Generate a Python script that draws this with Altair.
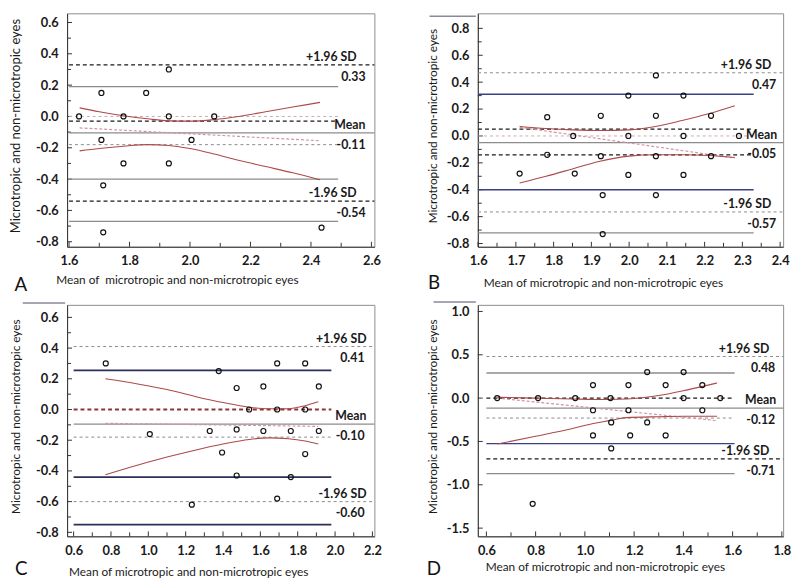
import altair as alt
import pandas as pd

FONT = "Lato"

# ---------------- Panel A ----------------
a_mean = [1.633, 1.707, 1.78, 1.855, 1.93, 1.93, 2.08, 1.707, 2.005, 1.78, 1.93, 1.713, 1.713, 2.435]
a_diff = [0.0, 0.15, 0.0, 0.15, 0.30, 0.0, 0.0, -0.15, -0.15, -0.30, -0.30, -0.44, -0.74, -0.71]
a_curve_x = [1.635, 1.70, 1.78, 1.86, 1.93, 2.00, 2.08, 2.16, 2.25, 2.34, 2.43]
a_ci_up = [0.055, 0.03, 0.005, -0.015, -0.028, -0.03, -0.02, 0.0, 0.03, 0.06, 0.09]
a_ci_lo = [-0.22, -0.205, -0.19, -0.18, -0.185, -0.205, -0.24, -0.28, -0.32, -0.36, -0.405]
a_reg_x = [1.635, 2.43]
a_reg_y = [-0.073, -0.155]
a_lines = [0.33, 0.19, 0.0, -0.03, -0.105, -0.18, -0.40, -0.54, -0.67]
a_labels = ["+1.96 SD", "0.33", "Mean", "-0.11", "-1.96 SD", "-0.54"]
a_label_at = [0.33, 0.33, -0.105, -0.105, -0.54, -0.54]
a_xmajor = [1.6, 1.8, 2.0, 2.2, 2.4, 2.6]
a_xminor = [1.7, 1.9, 2.1, 2.3, 2.5]
a_ymajor = [0.6, 0.4, 0.2, 0.0, -0.2, -0.4, -0.6, -0.8]
a_yminor = [0.5, 0.3, 0.1, -0.1, -0.3, -0.5, -0.7]

# ---------------- Panel B ----------------
b_mean = [1.710, 1.783, 1.783, 1.852, 1.856, 1.925, 1.925, 1.930, 1.930, 1.998, 1.998,
          1.998, 2.071, 2.071, 2.071, 2.071, 2.144, 2.144, 2.144, 2.217, 2.217, 2.291]
b_diff = [-0.28, 0.14, -0.14, 0.0, -0.28, 0.15, -0.15, -0.44, -0.73, 0.30, 0.0,
          -0.29, 0.45, 0.15, -0.15, -0.44, 0.30, 0.0, -0.29, 0.15, -0.15, 0.0]
b_curve_x = [1.71, 1.78, 1.85, 1.92, 2.00, 2.07, 2.14, 2.21, 2.28]
b_ci_up = [0.07, 0.055, 0.045, 0.04, 0.045, 0.07, 0.115, 0.165, 0.225]
b_ci_lo = [-0.35, -0.30, -0.245, -0.19, -0.15, -0.14, -0.14, -0.145, -0.16]
b_reg_x = [1.71, 2.28]
b_reg_y = [0.065, -0.165]
b_lines = [0.47, 0.31, 0.05, 0.0, -0.05, -0.14, -0.40, -0.565, -0.72]
b_labels = ["+1.96 SD", "0.47", "Mean", "-0.05", "-1.96 SD", "-0.57"]
b_label_at = [0.47, 0.47, -0.05, -0.05, -0.565, -0.565]
b_xmajor = [1.6, 1.7, 1.8, 1.9, 2.0, 2.1, 2.2, 2.3, 2.4]
b_xminor = [1.65, 1.75, 1.85, 1.95, 2.05, 2.15, 2.25, 2.35]
b_ymajor = [0.8, 0.6, 0.4, 0.2, 0.0, -0.2, -0.4, -0.6, -0.8]
b_yminor = [0.7, 0.5, 0.3, 0.1, -0.1, -0.3, -0.5, -0.7]

# ---------------- Panel C ----------------
c_mean = [0.772, 1.377, 1.473, 1.69, 1.616, 1.84, 1.913, 1.54, 1.69, 1.84, 1.008,
          1.329, 1.473, 1.616, 1.763, 1.913, 1.395, 1.84, 1.473, 1.763, 1.69, 1.233]
c_diff = [0.30, 0.25, 0.14, 0.30, 0.15, 0.30, 0.15, 0.0, 0.0, 0.0, -0.16,
          -0.14, -0.13, -0.14, -0.14, -0.14, -0.28, -0.29, -0.43, -0.44, -0.58, -0.62]
c_curve_x = [0.77, 0.95, 1.10, 1.25, 1.40, 1.54, 1.65, 1.75, 1.84, 1.91]
c_ci_up = [0.20, 0.165, 0.13, 0.085, 0.045, 0.015, 0.005, 0.005, 0.025, 0.05]
c_ci_lo = [-0.425, -0.36, -0.31, -0.265, -0.225, -0.195, -0.185, -0.19, -0.205, -0.225]
c_reg_x = [0.77, 1.91]
c_reg_y = [-0.09, -0.11]
c_lines = [0.41, 0.255, 0.0, -0.095, -0.18, -0.44, -0.60, -0.75]
c_labels = ["+1.96 SD", "0.41", "Mean", "-0.10", "-1.96 SD", "-0.60"]
c_label_at = [0.41, 0.41, -0.095, -0.095, -0.60, -0.60]
c_xmajor = [0.6, 0.8, 1.0, 1.2, 1.4, 1.6, 1.8, 2.0, 2.2]
c_xminor = [0.7, 0.9, 1.1, 1.3, 1.5, 1.7, 1.9, 2.1]
c_ymajor = [0.6, 0.4, 0.2, 0.0, -0.2, -0.4, -0.6, -0.8]
c_yminor = [0.5, 0.3, 0.1, -0.1, -0.3, -0.5, -0.7]

# ---------------- Panel D ----------------
d_mean = [0.644, 0.81, 0.961, 1.033, 1.033, 1.033, 1.104, 1.107, 1.107, 1.177, 1.177,
          1.184, 1.253, 1.253, 1.328, 1.328, 1.401, 1.401, 1.477, 1.477, 1.55, 0.788]
d_diff = [0.0, 0.0, 0.0, 0.15, -0.14, -0.43, 0.0, -0.28, -0.58, 0.15, -0.14,
          -0.43, 0.30, -0.28, 0.15, -0.43, 0.30, 0.0, 0.15, -0.14, 0.0, -1.22]
d_curve_x = [0.644, 0.80, 0.95, 1.04, 1.10, 1.17, 1.30, 1.40, 1.47, 1.537]
d_ci_up = [0.01, 0.0, -0.01, -0.015, -0.015, -0.01, 0.03, 0.085, 0.13, 0.175]
d_ci_lo = [-0.53, -0.44, -0.35, -0.29, -0.26, -0.225, -0.215, -0.21, -0.21, -0.21]
d_reg_x = [0.644, 1.537]
d_reg_y = [0.0, -0.26]
d_lines = [0.48, 0.29, 0.0, -0.115, -0.23, -0.525, -0.70, -0.87]
d_labels = ["+1.96 SD", "0.48", "Mean", "-0.12", "-1.96 SD", "-0.71"]
d_label_at = [0.48, 0.48, -0.115, -0.115, -0.70, -0.70]
d_xmajor = [0.6, 0.8, 1.0, 1.2, 1.4, 1.6, 1.8]
d_xminor = [0.7, 0.9, 1.1, 1.3, 1.5, 1.7]
d_ymajor = [1.0, 0.5, 0.0, -0.5, -1.0, -1.5]
d_yminor = []

# ---------------- styles ----------------
STYLES = {
    "dash_dark": dict(color="#1a1a1a", strokeDash=[4, 3], strokeWidth=1.3),
    "dash_gray": dict(color="#8a8a8a", strokeDash=[3, 3], strokeWidth=1.0),
    "dash_light": dict(color="#c9aab2", strokeDash=[3, 3], strokeWidth=1.0),
    "dash_red": dict(color="#8e3434", strokeDash=[4, 3], strokeWidth=1.8),
    "solid_gray": dict(color="#8c8c8c", strokeWidth=1.3),
    "solid_blue": dict(color="#3b3f86", strokeWidth=1.5),
    "solid_navy": dict(color="#2c2f5c", strokeWidth=1.7),
}
RED = "#ac4a4a"
REG = "#d493a4"
LBL = "replace(format(datum.value, '.1f'), '\u2212', '-')"
XTITLE = "Mean of microtropic and non-microtropic eyes"
YTITLE = "Microtropic and non-microtropic eyes"


def panel(p):
    W, H = p["W"], p["H"]
    xs = alt.Scale(domain=p["xdom"], nice=False, zero=False)
    ys = alt.Scale(domain=p["ydom"], nice=False, zero=False)
    common = dict(ticks=False, grid=False, domain=True, domainColor="#333", domainWidth=1,
                  labelFont=FONT, labelFontSize=13, labelFontWeight="bold", labelColor="#1a1a1a",
                  labelOverlap=False, labelFlush=False, labelExpr=LBL, title=None)
    xaxis = alt.Axis(values=p["xmajor"], labelPadding=8, **common)
    yaxis = alt.Axis(values=p["ymajor"], labelPadding=9, **common)

    def X(f):
        return alt.X(f + ":Q", scale=xs, axis=xaxis)

    def Y(f):
        return alt.Y(f + ":Q", scale=ys, axis=yaxis)

    layers = []
    # inward tick marks (major and minor)
    for vals, ln in ((p["xmajor"], 5), (p["xminor"], 4)):
        if vals:
            layers.append(alt.Chart(pd.DataFrame({"t": vals})).mark_rule(color="#333", strokeWidth=1)
                          .encode(x=X("t"), y=alt.value(H), y2=alt.value(H - ln)))
    for vals, ln in ((p["ymajor"], 5), (p["yminor"], 4)):
        if vals:
            layers.append(alt.Chart(pd.DataFrame({"t": vals})).mark_rule(color="#333", strokeWidth=1)
                          .encode(y=Y("t"), x=alt.value(0), x2=alt.value(ln)))
    # horizontal reference lines
    for v, st, full in zip(p["lines"], p["styles"], p["full"]):
        df = pd.DataFrame({"x0": [p["x_start"]], "x1": [p["xdom"][1] if full else p["ci_end"]], "v": [v]})
        layers.append(alt.Chart(df).mark_rule(**STYLES[st]).encode(x=X("x0"), x2="x1", y=Y("v")))
    # regression line
    rdf = pd.DataFrame({"rx": p["reg_x"], "ry": p["reg_y"]})
    layers.append(alt.Chart(rdf).mark_line(color=REG, strokeDash=[3, 2], strokeWidth=1.2)
                  .encode(x=X("rx"), y=Y("ry")))
    # confidence curves
    cdf = pd.DataFrame({"cx": p["cx"], "up": p["up"], "lo": p["lo"]})
    for f in ("up", "lo"):
        layers.append(alt.Chart(cdf).mark_line(color=RED, strokeWidth=1.1, interpolate="monotone")
                      .encode(x=X("cx"), y=Y(f)))
    # points
    pdf = pd.DataFrame({"m": p["mean"], "d": p["diff"]})
    layers.append(alt.Chart(pdf).mark_point(shape="circle", filled=False, color="#111", size=26,
                                            strokeWidth=1.2, opacity=1)
                  .encode(x=X("m"), y=Y("d")))
    # line labels
    kinds = ["sd", "val", "mean", "val", "sd", "val"]
    for i, (t, at) in enumerate(zip(p["labels"], p["label_at"])):
        above = i % 2 == 0
        ldf = pd.DataFrame({"lx": [p["xdom"][1]], "ly": [at], "t": [t]})
        layers.append(alt.Chart(ldf).mark_text(align="right", baseline="middle", font=FONT,
                                               fontSize=12.5, fontWeight="bold", color="#1a1a1a",
                                               dx=p["dx"][kinds[i]], dy=-8 if above else 12)
                      .encode(x=X("lx"), y=Y("ly"), text="t:N"))
    # axis titles (as annotations)
    layers.append(alt.Chart(pd.DataFrame({"t": [p["xtitle"]]})).mark_text(
        font=FONT, fontSize=12, color="#1a1a1a", align="left", baseline="middle")
        .encode(x=alt.value(p["xtx"]), y=alt.value(H + p["xty"]), text="t:N"))
    layers.append(alt.Chart(pd.DataFrame({"t": [YTITLE]})).mark_text(
        font=FONT, fontSize=p["ytfs"], color="#1a1a1a", align="center", baseline="middle", angle=270)
        .encode(x=alt.value(p["ytx"]), y=alt.value(H / 2 - 4), text="t:N"))
    # panel letter
    layers.append(alt.Chart(pd.DataFrame({"t": [p["letter"]]})).mark_text(
        font=FONT, fontSize=19, color="#111", align="center", baseline="middle")
        .encode(x=alt.value(p["letter_xy"][0]), y=alt.value(p["letter_xy"][1]), text="t:N"))
    # small decorative rule at the top-left
    if p.get("decor"):
        dx0, dx1, dy0 = p["decor"]
        layers.append(alt.Chart(pd.DataFrame({"t": [0]})).mark_rule(color="#8a8a9a", strokeWidth=1.5)
                      .encode(x=alt.value(dx0), x2=alt.value(dx1), y=alt.value(dy0)))
    return alt.layer(*layers).properties(width=W, height=H)


H1, H2 = 237, 235
panel_a = panel(dict(
    W=312, H=H1, xdom=[1.5935, 2.6098], ydom=[-0.832, 0.6585],
    xmajor=a_xmajor, xminor=a_xminor, ymajor=a_ymajor, yminor=a_yminor,
    xtitle="Mean of\u00a0 microtropic and non-microtropic eyes", xtx=-11, xty=34, ytx=-52, ytfs=13.2,
    lines=a_lines,
    styles=["dash_dark", "solid_gray", "dash_light", "dash_dark", "solid_gray", "dash_gray", "solid_gray", "dash_dark", "solid_gray"],
    full=[True, False, False, False, True, False, False, True, False],
    x_start=1.6, ci_end=2.49, reg_x=a_reg_x, reg_y=a_reg_y,
    cx=a_curve_x, up=a_ci_up, lo=a_ci_lo, mean=a_mean, diff=a_diff,
    labels=a_labels, label_at=a_label_at, dx={"sd": -18, "val": -9, "mean": -9},
    letter="A", letter_xy=(-47, H1 + 39)))

panel_b = panel(dict(
    W=310, H=H1, xdom=[1.5992, 2.408], ydom=[-0.824, 0.912],
    xmajor=b_xmajor, xminor=b_xminor, ymajor=b_ymajor, yminor=b_yminor,
    xtitle=XTITLE, xtx=6, xty=37, ytx=-45, ytfs=12,
    lines=b_lines,
    styles=["dash_gray", "solid_blue", "dash_dark", "dash_light", "solid_gray", "dash_dark", "solid_blue", "dash_gray", "solid_gray"],
    full=[True, False, False, False, True, False, False, True, False],
    x_start=1.6, ci_end=2.33, reg_x=b_reg_x, reg_y=b_reg_y,
    cx=b_curve_x, up=b_ci_up, lo=b_ci_lo, mean=b_mean, diff=b_diff,
    labels=b_labels, label_at=b_label_at, dx={"sd": -12, "val": -7, "mean": -6},
    letter="B", letter_xy=(-44.5, H1 + 37), decor=(-49, -2, 3)))

panel_c = panel(dict(
    W=312, H=H2, xdom=[0.565, 2.2106], ydom=[-0.826, 0.6815],
    xmajor=c_xmajor, xminor=c_xminor, ymajor=c_ymajor, yminor=c_yminor,
    xtitle=XTITLE, xtx=2, xty=36, ytx=-52, ytfs=12,
    lines=c_lines,
    styles=["dash_gray", "solid_navy", "dash_red", "solid_gray", "dash_gray", "solid_navy", "dash_gray", "solid_navy"],
    full=[True, False, False, True, False, False, True, False],
    x_start=0.6, ci_end=1.98, reg_x=c_reg_x, reg_y=c_reg_y,
    cx=c_curve_x, up=c_ci_up, lo=c_ci_lo, mean=c_mean, diff=c_diff,
    labels=c_labels, label_at=c_label_at, dx={"sd": -8, "val": -10, "mean": -8},
    letter="C", letter_xy=(-46.5, H2 + 33), decor=(-45, -2, -2)))

panel_d = panel(dict(
    W=310, H=H2, xdom=[0.5652, 1.8052], ydom=[-1.5945, 1.076],
    xmajor=d_xmajor, xminor=d_xminor, ymajor=d_ymajor, yminor=d_yminor,
    xtitle=XTITLE, xtx=8, xty=31, ytx=-45, ytfs=12,
    lines=d_lines,
    styles=["dash_gray", "solid_gray", "dash_dark", "solid_gray", "dash_gray", "solid_blue", "dash_dark", "solid_gray"],
    full=[True, False, False, True, False, False, True, False],
    x_start=0.6, ci_end=1.608, reg_x=d_reg_x, reg_y=d_reg_y,
    cx=d_curve_x, up=d_ci_up, lo=d_ci_lo, mean=d_mean, diff=d_diff,
    labels=d_labels, label_at=d_label_at, dx={"sd": -14, "val": -8, "mean": -7},
    letter="D", letter_xy=(-44.5, H2 + 33), decor=(-45, -2, -3)))

chart = alt.concat(
    panel_a, panel_b, panel_c, panel_d,
    columns=2, spacing={"row": 59, "column": 105}, bounds="flush",
).properties(
    padding={"left": 0, "top": 0, "right": 0, "bottom": 0},
    background="white",
).configure_view(stroke="#8c8c8c", strokeWidth=1)

chart.save("out.html", embed_options={"renderer": "svg", "actions": False})
